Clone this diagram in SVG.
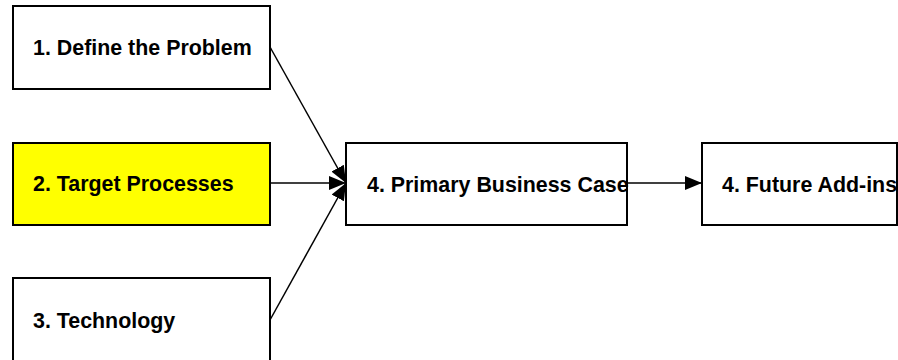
<svg xmlns="http://www.w3.org/2000/svg" width="898" height="360" viewBox="0 0 898 360">
<defs>
<style>
.box{fill:#fff;stroke:#000;stroke-width:2}
.hl{fill:#ffff00}
.lbl{font-family:"Liberation Sans",Arial,sans-serif;font-weight:bold;font-size:21.4px;fill:#000}
.con{stroke:#000;stroke-width:1.5;fill:none;marker-end:url(#ah)}
</style>
<marker id="ah" viewBox="0 0 17 14" refX="17" refY="7" markerWidth="17" markerHeight="14" markerUnits="userSpaceOnUse" orient="auto">
<path d="M0,0 L17,7 L0,14 Z" fill="#000"/>
</marker>
</defs>
<rect width="898" height="360" fill="#fff"/>
<g id="n1"><rect class="box" x="13" y="6" width="257" height="83"/><text class="lbl" x="33" y="55">1. Define the Problem</text></g>
<g id="n2"><rect class="box hl" x="13" y="143" width="257" height="82"/><text class="lbl" x="33" y="191">2. Target Processes</text></g>
<g id="n3"><rect class="box" x="13" y="278" width="257" height="90"/><text class="lbl" x="33" y="328">3. Technology</text></g>
<g id="n4"><rect class="box" x="346" y="143" width="281" height="82"/><text class="lbl" x="367" y="192">4. Primary Business Case</text></g>
<g id="n5"><rect class="box" x="702" y="143" width="195" height="82"/><text class="lbl" x="722" y="192">4. Future Add-ins</text></g>
<g id="connectors">
<line class="con" x1="270" y1="47" x2="346" y2="183"/>
<line class="con" x1="270" y1="183" x2="346" y2="183"/>
<line class="con" x1="270" y1="320" x2="346" y2="183"/>
<line class="con" x1="627" y1="183" x2="702" y2="183"/>
</g>
</svg>
